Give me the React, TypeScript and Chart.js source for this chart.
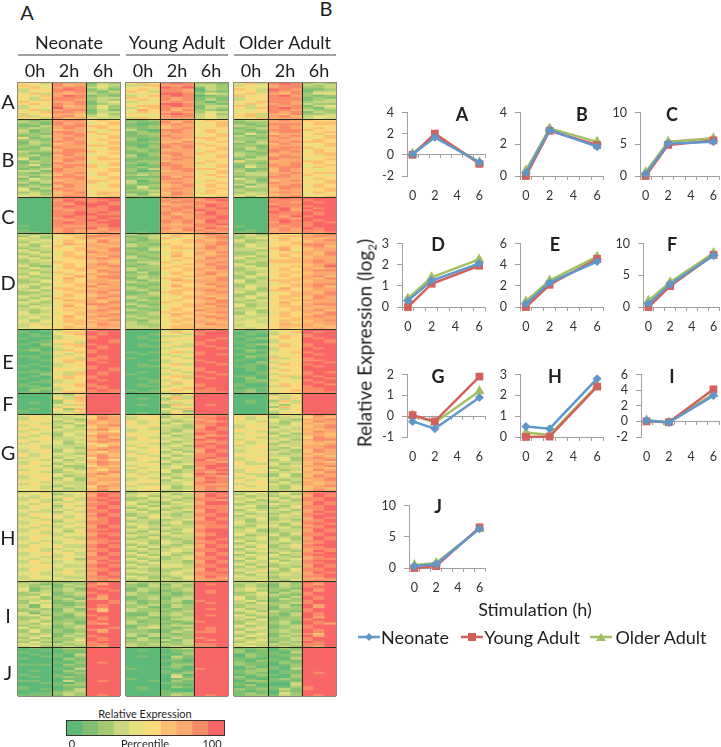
import React, { useEffect, useRef } from 'react';
import { Chart, registerables } from 'chart.js';

Chart.register(...registerables);
Chart.defaults.font.family = 'Lato, "Open Sans", sans-serif';

// ---------- Heat map data: one digit per replicate cell (percentile decile 0..9) ----------
// Each row: Neonate (9 cells) Young Adult (9 cells) Older Adult (9 cells); cells are 0h,0h,0h,2h,2h,2h,6h,6h,6h
const clusterA = [
  '453877132 565898221 463898232', '644867243 336778332 354788323',
  '564788342 455989132 544788223', '355898131 564887032 653987112',
  '345878213 653887121 553878133', '463767322 445998243 464768244',
  '546798121 346898012 645897212', '535888233 655878121 355888121',
  '436887232 564878131 354888123', '654778134 344787202 546887233',
  '565878123 445998221 465787322', '344867242 566898133 634878134',
  '354977242 356877132 536898213', '463788131 475868221 445887322',
  '546887133 465787243 445878132', '355776242 544898342 563768223',
  '635786343 544788353 563786344', '453867433 365777343 446777343',
];
const clusterB = [
  '212788565 112777565 233787655', '321877456 211868456 122777566',
  '121878456 101787456 212888566', '113788665 112677546 321787455',
  '232787565 212678455 123787565', '312677446 310887565 212888655',
  '312887645 121787564 221788456', '221788565 122777456 142677565',
  '123778456 112877456 312878546', '512787546 211787665 221787456',
  '221787565 201776565 222777565', '132878456 112668456 313878665',
  '132678546 111787645 123687456', '221777665 102878565 221777546',
  '213877456 212878556 231788655', '123688546 221677456 132887465',
  '322788655 121777465 212878465', '211887456 112887645 321777566',
  '231687445 302687546 322687546', '312778565 211778456 213888455',
  '412788566 111787455 133877456', '132687455 122677565 522677665',
  '122877456 212877645 221778565', '241788646 101887456 132878456',
  '212787645 121787546 142788465', '123877556 213788665 211687545',
  '331877556 201678456 312687545', '212778465 122777446 233778566',
  '223687465 232777565 233787654', '312888546 111868556 122887455',
  '142778556 122887545 421777465', '233677665 302777465 231678546',
  '313877645 311787456 232877556', '121787456 212678565 313778465',
  '232687546 142678565 143788465', '413877555 131787456 222687556',
  '421787455 223777465 322677556', '232678566 112687565 233787465',
  '342677565 314687555 343677455', '433788456 222777456 424778556',
];
const clusterC = [
  '000888899 000787898 000898999', '000798889 000878789 000888899',
  '000889898 000788878 000887989', '000879998 000677898 000788999',
  '000898989 000878798 000988899', '000788889 000788889 000897989',
  '000878889 000787988 000897899', '000889898 000878798 000988989',
  '000889988 000867898 000888989', '000898899 000787889 000879899',
  '000788898 000787889 000887999', '000878989 000878798 000898989',
  '000898899 000878798 000798898', '000888889 000767889 000888899',
  '100877889 000777887 100878899', '000788978 000878798 000787989',
  '100787778 000768878 010787889', '110787787 010776787 110777878',
];
const clusterD = [
  '323565678 312566787 342655678', '242456887 123465678 233566787',
  '432456767 213645678 234565767', '334565686 212556767 422465678',
  '243565687 122556778 323556677', '423476767 321655678 243556887',
  '324645776 322465687 243465786', '233556678 113566787 334675677',
  '423556768 213554677 332574677', '342465877 221465768 223456768',
  '234465677 122465767 223565768', '423566768 312575678 342565677',
  '342556787 321556687 423456677', '234455676 122465777 233666787',
  '233655676 233645778 232666787', '323565787 213556687 422455678',
  '421465778 122565678 342556679', '243466767 322656778 234565767',
  '323556687 312556767 233465788', '342645678 131465687 323556677',
  '243465767 221465786 324565677', '423557688 232556767 243465786',
  '332575678 132664678 232556768', '234465776 213476778 423666677',
  '224565777 322456777 423465677', '342556687 121565687 233456788',
  '423456867 212575668 243556786', '324665677 322456777 342575677',
  '342566778 231566787 332665677', '223456786 113665678 423456768',
  '233465677 123465677 224456778', '432565678 322546767 243566687',
  '324655786 321556786 342565687', '243476767 132465678 324456777',
  '432556768 212645678 233575677', '323465887 321556787 423565788',
  '243475677 132456768 423466767', '334556678 212465677 234556677',
  '323565787 321565877 332556786', '423456776 123656678 242465768',
  '434456678 223476767 243465678', '343575787 322565787 433565787',
  '343565767 232556678 334556777', '424466678 213466767 343466678',
  '434566776 323565776 443565677', '353456687 322456687 344576767',
  '345565677 332566667 344566766', '444566776 333566776 434565676',
];
const clusterE = [
  '001355899 000334989 101455999', '100466989 000465899 011346989',
  '010456989 001543899 010354899', '011345899 010334999 100565899',
  '100345899 010455998 012465989', '001554998 001544989 010354998',
  '011553998 000344899 100345998', '102366899 010453899 012465899',
  '001456989 011533989 010564899', '010345989 000345998 100355989',
  '120365899 000454999 021355999', '001546899 101563899 010446899',
  '001434999 010345898 101454989', '110355989 000434999 021355999',
  '010553889 100553999 010635899', '001466899 001345899 100454889',
  '000465989 000344989 002345998', '010345999 010563998 011565899',
  '101345899 011454999 110455989', '000554898 000345899 010345999',
  '010554998 000535899 010564999', '111436989 010453989 001455898',
  '002436989 100344998 001345899', '010565899 000566899 110563989',
  '100565899 010553989 020453998', '001345989 001345999 012345899',
  '011345999 001465999 011554989', '100556899 010534899 100465998',
  '110456889 011345899 100365899', '012345989 000456989 011545889',
  '021355898 101564889 120456889', '110466888 011355888 121455888',
];
const clusterF = [
  '000325999 000325999 000245999', '000436999 000463999 000534999',
  '000536999 010263999 000435999', '000256999 000345999 010263999',
  '010245999 000534999 010353999', '000436999 010263989 000425999',
  '000354999 000245999 000264999', '010526999 000436999 000435999',
  '100435999 000352999 000345999', '000346999 010253999 000254999',
];
const clusterG = [
  '445343676 454345778 445343687', '354334587 345243889 534234576',
  '354432687 345434789 534432778', '445243767 534323878 443423687',
  '543324767 534243889 445324767', '354342678 445432789 354334678',
  '445243576 453332798 354243678', '534433786 343323898 545433767',
  '354334665 345324889 543334687', '443243577 544243989 354242776',
  '534243787 544423878 445423676', '345334686 353333799 443333587',
  '445333678 354343989 354342788', '534424787 445423878 534423676',
  '354423566 443234898 534233667', '443333647 354342989 345343778',
  '453332678 534333889 445324778', '345243787 445423798 354232687',
  '345243657 345242798 345432687', '534432676 534334889 544323767',
  '534334786 453423889 454333676', '345243587 345243898 345442787',
  '443423675 354333978 345242778', '354334787 443423887 534333676',
  '354243687 445234889 533423687', '543422576 354342899 445334778',
  '445332767 534342798 454233676', '354243657 345423889 354423687',
  '543234678 343423878 345334768', '445433786 534234989 533242677',
  '354423766 454334887 443242687', '345242677 343423798 354433778',
  '445342677 345243788 534323678', '543433766 454334898 445242767',
  '354333767 533334877 345433767', '443243587 345423788 534324678',
  '443423676 445423787 454324676', '454333686 354334787 445333687',
];
const clusterH = [
  '343345889 234234889 334243889', '445234798 343423798 243342798',
  '434434798 342343798 423234798', '334353889 224332889 334423889',
  '353243898 233423887 342342889', '443434789 432243799 423233798',
  '435354889 423234799 233433798', '354243898 342433888 342324889',
  '344345798 234323888 432234889', '443434889 423234798 243342789',
  '433243889 342432798 334323798', '354345798 233323889 423234889',
  '354534898 235323889 243343899', '435434789 424433798 334233798',
  '443345789 333234798 324232789', '345243889 232342889 423343889',
  '345434889 432342889 433324898', '453345798 343233788 324423789',
  '434343798 243433788 234342889', '345434889 432324899 342233798',
  '353425899 324234899 342233798', '443344788 233423789 433324889',
  '445344798 432343789 423423889', '354433899 324233899 234232798',
  '354453889 233323898 334242798', '443345788 432432789 423343889',
  '435344789 342432889 243323789', '354433898 233323798 334234899',
  '344533898 424234798 425234889', '453344789 342343889 243323788',
  '453434889 233343889 334332798', '345453798 423432798 423243889',
  '345343798 342423798 243423899', '443344889 234234889 334332789',
  '434452889 423234889 424234788', '354343798 342332798 243423899',
  '353344789 234332798 333343889', '445433898 423443889 424233798',
  '445433898 343443889 242232798', '354344789 232323798 333424889',
  '354343889 432234798 435324889', '443453798 343343889 243233798',
  '443344798 223343888 324343789', '354333889 432234798 433233889',
  '344433788 342324787 343233778', '433344787 233333778 334324787',
];
const clusterI = [
  '232212989 322323999 323231989', '321132879 213132989 232132879',
  '323123899 213232999 232132899', '412231989 132223999 343221989',
  '413232998 132123989 342213979', '233123899 321212989 224132899',
  '224123989 322212999 234321899', '342212979 123123999 423213989',
  '332231879 123133999 423132989', '234123998 212231899 342122899',
  '243112998 312221989 324223899', '314212989 223132999 233231979',
  '314223989 231132999 233132979', '232131869 322212989 423122899',
  '223132969 322123999 342321899', '413223999 113232999 234213989',
  '342213899 113232989 423213989', '224112989 231123999 342122979',
  '233122989 222133999 324122899', '342221899 312212899 233231989',
  '324231879 322121999 243231987', '233123999 123233999 423123899',
  '423123998 134212989 334123899', '242212879 221123989 243232989',
  '242212979 221132889 423232989', '323123999 323212999 334123869',
  '334132899 313222999 243132979', '242223989 131132899 423223899',
  '323224989 232313989 334223899', '242133899 222123999 243132989',
  '433323889 323323889 433323889', '342232879 322232889 343232879',
];
const clusterJ = [
  '010122999 000123999 112021999', '001011999 010011999 201012999',
  '100011999 000012999 211103999', '010103999 000102999 021111999',
  '001102999 010031999 021012999', '100021999 000021999 110103999',
  '000011999 000110999 102111999', '000102989 000011999 211021999',
  '111021999 000022999 211012999', '000011999 000120999 020102999',
  '000103999 100010899 012103999', '010021999 000101999 122011999',
  '000012999 000112999 121011989', '100101999 000030999 012102999',
  '010121999 000041999 201002999', '000011999 100012999 110121999',
  '110031989 001021999 022111999', '001102999 000111999 101003999',
  '000122999 000010999 120003999', '100011999 010021999 011112899',
  '101013999 010000999 212131899', '000123999 000100999 101021999',
  '011232999 000122999 121042999', '111132989 000132989 122132989',
];
const heatClusters = [clusterA, clusterB, clusterC, clusterD, clusterE, clusterF, clusterG, clusterH, clusterI, clusterJ];
const clusterSizes = [37, 78, 36, 96, 64, 21, 77, 90, 66, 49];
const clusterNames = ['A', 'B', 'C', 'D', 'E', 'F', 'G', 'H', 'I', 'J'];
const ageGroups = ['Neonate', 'Young Adult', 'Older Adult'];
const cellLabels = ['', '0h', '', '', '2h', '', '', '6h', ''];
const decileColors = ['#5cb978', '#80bf72', '#a3ca72', '#c8d67e', '#e6e081', '#fbd97a', '#fcbe70', '#fba76d', '#fa8a68', '#f96666'];
const percentileDeciles = [0, 1, 2, 3, 4, 5, 6, 7, 8, 9];

// ---------- Line panel data ----------
const stimulationHours = [0, 2, 6];
const neonateValues = [
  [0.05, 1.65, -0.7], [0.2, 2.9, 1.85], [0.3, 5.1, 5.4], [0.3, 1.25, 2.05], [0.3, 2.3, 4.3],
  [0.5, 3.6, 8.1], [-0.25, -0.6, 0.9], [0.5, 0.4, 2.8], [0.1, -0.15, 3.3], [0.3, 0.6, 6.3],
];
const youngAdultValues = [
  [0, 2.0, -0.85], [0, 2.85, 1.95], [0, 4.9, 5.6], [0, 1.1, 1.95], [0, 2.1, 4.55],
  [0, 3.3, 8.2], [0.05, -0.25, 1.9], [0, 0.02, 2.42], [0, -0.1, 4.1], [0, 0.3, 6.5],
];
const olderAdultValues = [
  [0.1, 1.8, -0.7], [0.35, 3.0, 2.15], [0.6, 5.4, 5.95], [0.4, 1.4, 2.25], [0.55, 2.5, 4.75],
  [1.0, 3.9, 8.5], [0.03, -0.3, 1.2], [0.22, 0.1, 2.47], [0.15, -0.1, 3.5], [0.5, 0.8, 6.3],
];
const panelMin = [-2, 0, 0, 0, 0, 0, -1, 0, -2, 0];
const panelMax = [4, 4, 10, 3, 6, 10, 2, 3, 6, 10];
const panelStep = [2, 2, 5, 1, 2, 5, 1, 1, 2, 5];

const seriesStyles = [
  { name: 'Neonate', color: '#5f97cb', pointStyle: 'rectRot', radius: 4.5 },
  { name: 'Young Adult', color: '#d4605c', pointStyle: 'rect', radius: 5.5 },
  { name: 'Older Adult', color: '#a2c062', pointStyle: 'triangle', radius: 6 },
];
const seriesValues = [neonateValues, youngAdultValues, olderAdultValues];

// ---------- Layout ----------
const panelFrames = [
  [407, 105, 78, 71], [520, 105, 83, 71], [640, 105, 79, 71],
  [402, 236, 83, 71], [520, 236, 83, 71], [643, 236, 76, 71],
  [407, 367, 78, 70], [520, 367, 83, 70], [641, 367, 78, 70],
  [409, 498, 76, 70],
];
const letterSpots = [
  [462, 114], [582, 114], [672, 114], [438, 244], [555, 244],
  [672, 244], [438, 376], [555, 376], [672, 376], [438, 506],
];
const heatLefts = [18, 126, 234];
const clusterLabelY = [101, 159, 216, 282, 361, 403, 452, 537, 615, 672];
const TEXT = '#1f1f1f';
const FONT = 'Lato, "Open Sans", sans-serif';

function HeatPanel({ age, left }: { age: number; left: number }) {
  const ref = useRef<HTMLCanvasElement>(null);
  useEffect(() => {
    const datasets: any[] = [];
    const boundaries = [0];
    let start = 0;
    heatClusters.forEach((rows, c) => {
      const step = clusterSizes[c] / rows.length;
      rows.forEach((row, r) => {
        const cells = row.split(' ')[age].split('').map(Number);
        datasets.push({
          data: cells.map(() => [start + r * step, start + (r + 1) * step]),
          backgroundColor: cells.map((d) => decileColors[d]),
          borderWidth: 0,
          borderSkipped: false,
          barPercentage: 1,
          categoryPercentage: 1,
        });
      });
      start += clusterSizes[c];
      boundaries.push(start);
    });
    const total = start;
    const chart = new Chart(ref.current!, {
      type: 'bar',
      data: { labels: cellLabels, datasets },
      options: {
        animation: false,
        responsive: false,
        events: [],
        layout: { padding: { left: 4, right: 4, top: 0, bottom: 4 } },
        plugins: { legend: { display: false }, tooltip: { enabled: false } },
        scales: {
          x: {
            type: 'category',
            position: 'top',
            stacked: true,
            offset: true,
            afterFit: (s: any) => { s.height = 52; },
            title: { display: true, text: ageGroups[age], color: TEXT, font: { size: 18 }, padding: { top: 2, bottom: 0 } },
            ticks: { color: TEXT, font: { size: 18 }, autoSkip: false, maxRotation: 0, minRotation: 0, padding: 0 },
            border: { display: false },
            grid: {
              offset: true,
              z: 1,
              drawTicks: false,
              lineWidth: 1,
              color: (ctx: any) => {
                const i = ctx.index;
                if (i === undefined || i === 0) return '#8c8a78';
                return i % 3 === 0 ? '#2a2a20' : 'rgba(0,0,0,0)';
              },
            },
          },
          y: {
            type: 'linear',
            reverse: true,
            min: 0,
            max: total,
            afterFit: (s: any) => { s.width = 0; },
            afterBuildTicks: (s: any) => { s.ticks = boundaries.map((value) => ({ value })); },
            ticks: { display: false, autoSkip: false },
            border: { display: false },
            grid: {
              z: 1,
              drawTicks: false,
              lineWidth: 1,
              color: (ctx: any) => {
                const v = ctx.tick ? ctx.tick.value : 0;
                return v === 0 || v === total ? '#8c8a78' : '#2a2a20';
              },
            },
          },
        },
      },
    } as any);
    return () => chart.destroy();
  }, [age]);
  return (
    <canvas
      ref={ref}
      width={110}
      height={670}
      style={{ position: 'absolute', left: left - 4, top: 30, display: 'block' }}
    />
  );
}

function LinePanel({ index }: { index: number }) {
  const ref = useRef<HTMLCanvasElement>(null);
  const [px, py, pw, ph] = panelFrames[index];
  useEffect(() => {
    const grey = '#a0a0a0';
    const chart = new Chart(ref.current!, {
      type: 'line',
      data: {
        datasets: seriesStyles.map((s, k) => ({
          label: s.name,
          data: stimulationHours.map((x, i) => ({ x, y: seriesValues[k][index][i] })),
          borderColor: s.color,
          backgroundColor: s.color,
          borderWidth: 2.5,
          pointStyle: s.pointStyle,
          pointRadius: s.radius,
          pointBorderWidth: 0,
          tension: 0,
          clip: false,
        })),
      },
      options: {
        animation: false,
        responsive: false,
        events: [],
        layout: { padding: { top: 8, right: 8 } },
        plugins: { legend: { display: false }, tooltip: { enabled: false } },
        scales: {
          x: {
            type: 'linear',
            position: 'bottom',
            min: -0.5,
            max: 6.5,
            afterFit: (s: any) => { s.height = 32; },
            afterBuildTicks: (s: any) => { s.ticks = [0, 2, 4, 6].map((value) => ({ value })); },
            ticks: { color: '#333', font: { size: 12.5 }, padding: 4, autoSkip: false, maxRotation: 0 },
            border: { display: false },
            grid: { display: false },
          },
          x2: {
            type: 'linear',
            position: { y: 0 },
            min: -0.5,
            max: 6.5,
            afterBuildTicks: (s: any) => {
              s.ticks = [-0.5, 0.5, 1.5, 2.5, 3.5, 4.5, 5.5, 6.5].map((value) => ({ value }));
            },
            ticks: { display: false, autoSkip: false },
            border: { color: grey, width: 1 },
            grid: { drawOnChartArea: false, color: grey, tickLength: 3 },
          },
          y: {
            type: 'linear',
            min: panelMin[index],
            max: panelMax[index],
            afterFit: (s: any) => { s.width = 40; },
            ticks: { stepSize: panelStep[index], color: '#333', font: { size: 12.5 }, padding: 8, autoSkip: false },
            border: { color: grey, width: 1 },
            grid: { drawOnChartArea: false, color: grey, tickLength: 5 },
          },
        },
      },
    } as any);
    return () => chart.destroy();
  }, [index]);
  return (
    <canvas
      ref={ref}
      width={40 + pw + 8}
      height={8 + ph + 32}
      style={{ position: 'absolute', left: px - 40, top: py - 8, display: 'block' }}
    />
  );
}

function ColorBar() {
  const ref = useRef<HTMLCanvasElement>(null);
  useEffect(() => {
    const chart = new Chart(ref.current!, {
      type: 'bar',
      data: {
        labels: percentileDeciles.map(String),
        datasets: [{
          data: percentileDeciles.map(() => [0, 1]),
          backgroundColor: percentileDeciles.map((d) => decileColors[d]),
          barPercentage: 1,
          categoryPercentage: 1,
          borderWidth: 0,
        }],
      },
      options: {
        animation: false,
        responsive: false,
        events: [],
        plugins: { legend: { display: false }, tooltip: { enabled: false } },
        scales: { x: { display: false }, y: { display: false, min: 0, max: 1 } },
      },
    } as any);
    return () => chart.destroy();
  }, []);
  return (
    <canvas
      ref={ref}
      width={157}
      height={14}
      style={{ position: 'absolute', left: 67, top: 721, display: 'block', outline: '1px solid #3a3030' }}
    />
  );
}

function Txt({ x, y, size, bold, children, rotate, color }: any) {
  return (
    <div
      style={{
        position: 'absolute',
        left: x,
        top: y,
        transform: `translate(-50%, -50%)${rotate ? ` rotate(${rotate}deg)` : ''}`,
        fontFamily: FONT,
        fontSize: size,
        fontWeight: bold ? 700 : 400,
        color: color || TEXT,
        whiteSpace: 'nowrap',
        lineHeight: 1,
      }}
    >
      {children}
    </div>
  );
}

function LegendKey({ x, series }: { x: number; series: number }) {
  const s = seriesStyles[series];
  const c = 11;
  let mark;
  if (series === 0) mark = <polygon points={`${c - 4},5 ${c},1 ${c + 4},5 ${c},9`} fill={s.color} />;
  else if (series === 1) mark = <rect x={c - 4} y={1} width={8} height={8} fill={s.color} />;
  else mark = <polygon points={`${c - 5},9 ${c},1 ${c + 5},9`} fill={s.color} />;
  return (
    <svg width={22} height={10} style={{ position: 'absolute', left: x, top: 632 }}>
      <line x1={0} y1={5} x2={22} y2={5} stroke={s.color} strokeWidth={2.5} />
      {mark}
    </svg>
  );
}

export default function App() {
  return (
    <div style={{ position: 'absolute', left: 0, top: 0, width: 721, height: 747, overflow: 'hidden', background: '#fff' }}>
      <Txt x={27} y={12} size={20}>A</Txt>
      <Txt x={326} y={8} size={20}>B</Txt>
      {heatLefts.map((l) => (
        <div key={l} style={{ position: 'absolute', left: l, top: 54, width: 102, height: 2, background: '#a0a0a0' }} />
      ))}
      {ageGroups.map((_, i) => <HeatPanel key={i} age={i} left={heatLefts[i]} />)}
      {clusterNames.map((n, i) => <Txt key={n} x={8} y={clusterLabelY[i]} size={20}>{n}</Txt>)}

      <Txt x={145} y={713} size={11}>Relative Expression</Txt>
      <ColorBar />
      <Txt x={72} y={743} size={11}>0</Txt>
      <Txt x={145} y={743} size={11}>Percentile</Txt>
      <Txt x={212} y={743} size={11}>100</Txt>

      {panelFrames.map((_, i) => <LinePanel key={i} index={i} />)}
      {clusterNames.map((n, i) => <Txt key={n} x={letterSpots[i][0]} y={letterSpots[i][1]} size={18} bold>{n}</Txt>)}

      <Txt x={364} y={343} size={19} rotate={-90}>
        Relative Expression (log<sub style={{ fontSize: 12, lineHeight: 0 }}>2</sub>)
      </Txt>
      <Txt x={535} y={609} size={18}>Stimulation (h)</Txt>

      <LegendKey x={358} series={0} />
      <Txt x={415} y={637} size={18}>Neonate</Txt>
      <LegendKey x={461} series={1} />
      <Txt x={532} y={637} size={18}>Young Adult</Txt>
      <LegendKey x={590} series={2} />
      <Txt x={661} y={637} size={18}>Older Adult</Txt>
    </div>
  );
}
